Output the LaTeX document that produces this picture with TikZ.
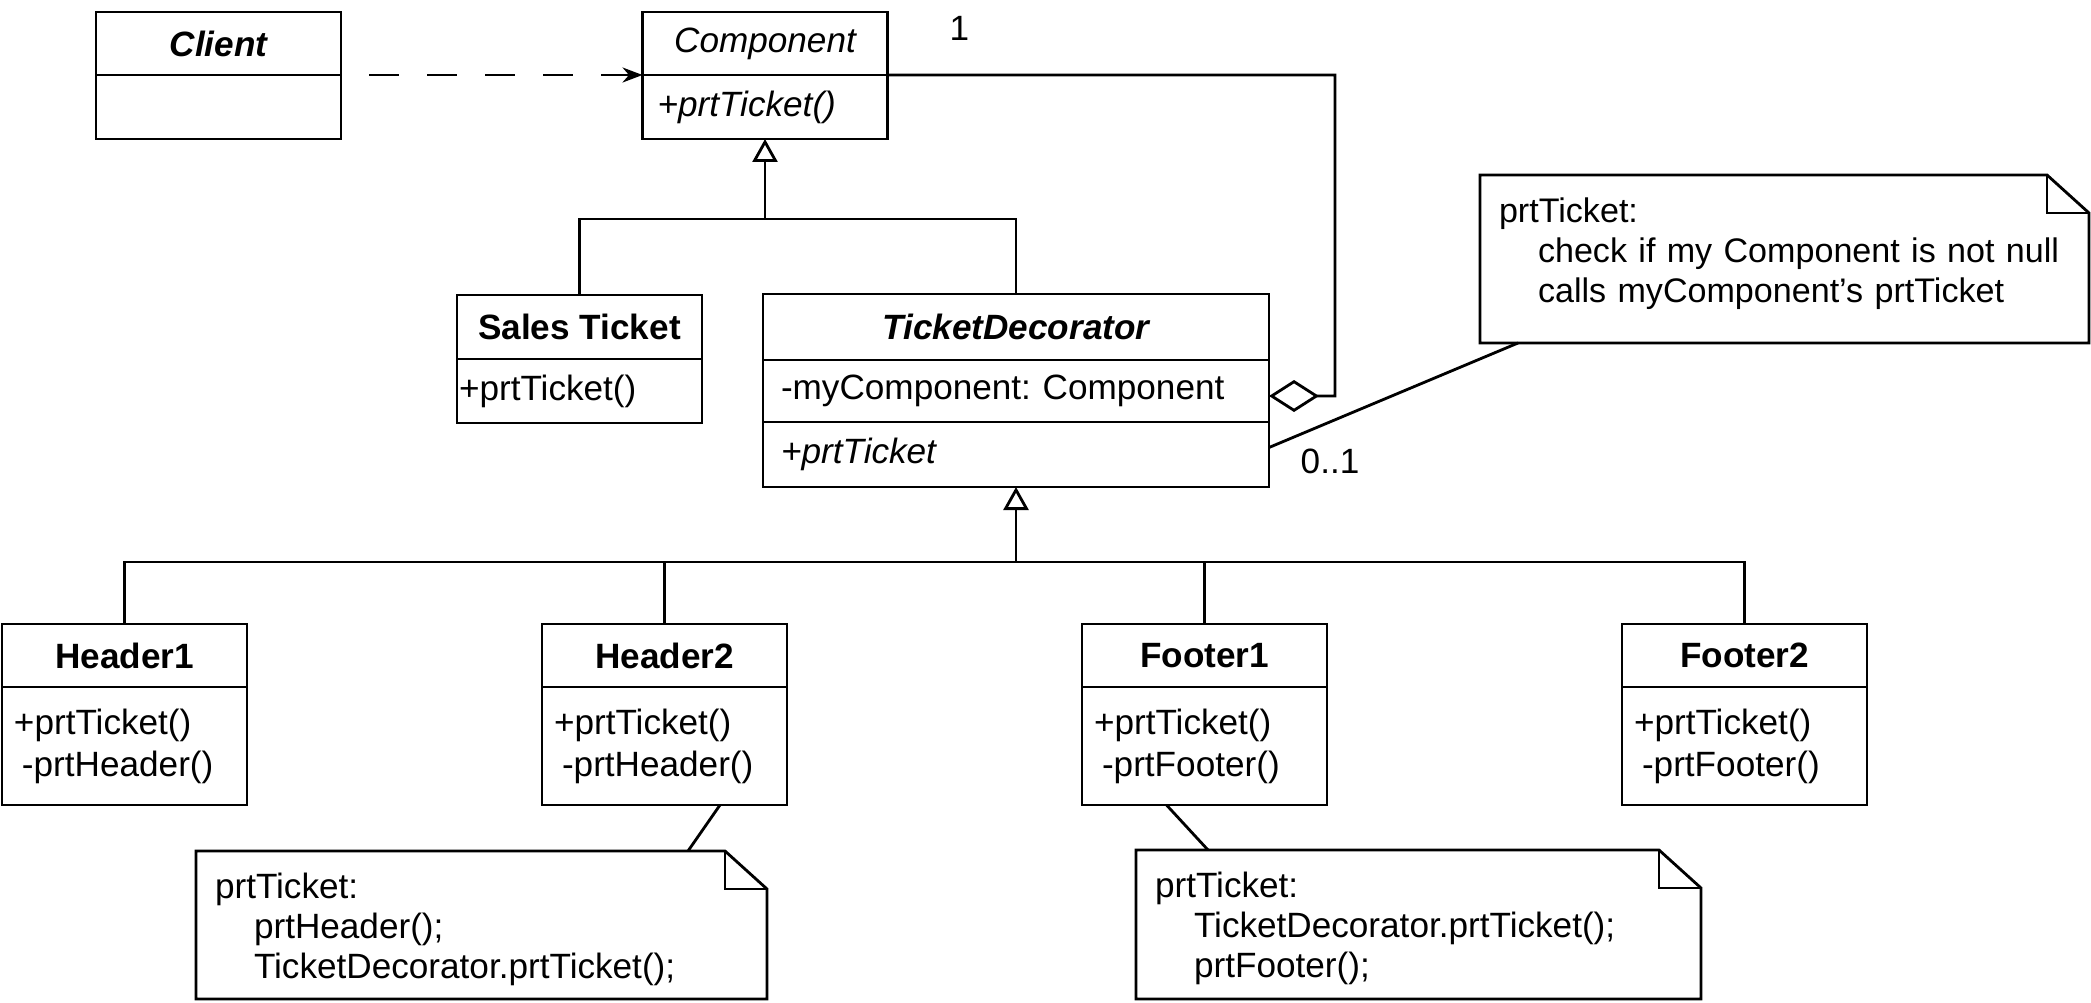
\documentclass[tikz,border=0pt]{standalone}
\usepackage{fontspec}
\setmainfont{Liberation Sans}
\usetikzlibrary{positioning, arrows.meta}
\frenchspacing

\begin{document}
\begin{tikzpicture}[node distance=5.4cm, line width=0.8pt, every node/.style={outer sep=0pt}]
    % Styles
    \tikzstyle{classname} = [rectangle, minimum width=2.45cm, minimum height=0.63cm, inner sep=0pt, text centered, draw=black, font=\bfseries]
    \tikzstyle{classops} = [rectangle, minimum width=2.45cm, minimum height=1.18cm, text width=2.21cm, inner xsep=0.12cm, inner ysep=0pt, align=left, draw=black]
    \tikzstyle{note} = [rectangle, anchor=north west, align=left, inner xsep=0.19cm, inner ysep=0pt, text height=0.47cm, font=\fontsize{10pt}{11.4pt}\selectfont]
    \tikzstyle{inherit} = [-{Triangle[open, length=0.23cm, width=0.25cm]}]
    \tikzstyle{depend} = [dash pattern=on 0.3cm off 0.28cm, dash phase=0.3cm, -{Stealth[length=0.2cm, width=0.15cm]}]
    \tikzstyle{aggregate} = [{Diamond[open, length=0.5cm, width=0.32cm]}-]
    \tikzstyle{mult} = [inner sep=0pt]

    \useasboundingbox (0,0) rectangle (20.91,-10.02);

    % Nodes
    \node (client) [classname, font=\bfseries\itshape] at (2.185,-0.435) {Client};
    \node (clientops) [classops, below=0pt of client, minimum height=0.64cm] {};
    \node (component) [classname, font=\itshape, node distance=5.465cm, right of=client] {Component};
    \node (componentops) [classops, below=0pt of component, minimum height=0.64cm, inner xsep=0.15cm, text width=2.15cm] {\textit{+prtTicket()}};

    \node (sales) [classname, minimum height=0.64cm] at (5.795,-3.27) {Sales Ticket};
    \node (salesops) [classops, below=0pt of sales, minimum height=0.64cm, inner xsep=0.02cm, text width=2.41cm] {+prtTicket()};
    \node (deco) [classname, font=\bfseries\itshape, minimum width=5.06cm, minimum height=0.66cm, node distance=4.365cm, right of=sales] {TicketDecorator};
    \node (decoattr) [classops, below=0pt of deco, minimum width=5.06cm, minimum height=0.62cm, inner xsep=0.18cm, text width=4.70cm] {-myComponent: Component};
    \node (decoops) [classops, below=0pt of decoattr, minimum width=5.06cm, minimum height=0.65cm, inner xsep=0.18cm, text width=4.70cm] {\textit{+prtTicket}};

    \node (header1) [classname] at (1.245,-6.555) {Header1};
    \node (header1ops) [classops, below=0pt of header1] {+prtTicket()\\\hspace*{0.08cm}-prtHeader()};
    \node (header2) [classname, right of=header1] {Header2};
    \node (header2ops) [classops, below=0pt of header2] {+prtTicket()\\\hspace*{0.08cm}-prtHeader()};
    \node (footer1) [classname, right of=header2] {Footer1};
    \node (footer1ops) [classops, below=0pt of footer1] {+prtTicket()\\\hspace*{0.08cm}-prtFooter()};
    \node (footer2) [classname, right of=footer1] {Footer2};
    \node (footer2ops) [classops, below=0pt of footer2] {+prtTicket()\\\hspace*{0.08cm}-prtFooter()};

    % Notes
    \node (deconote) [note, font=\fontsize{9.7pt}{11.4pt}\selectfont, text width=5.71cm, text depth=1.21cm] at (14.80,-1.75) {prtTicket:\\\hspace*{0.39cm}check if my Component is not null\\\hspace*{0.39cm}calls myComponent's prtTicket};
    \node (headernote) [note, text width=5.33cm, text depth=1.01cm] at (1.96,-8.51) {prtTicket:\\\hspace*{0.39cm}prtHeader();\\\hspace*{0.39cm}TicketDecorator.prtTicket();};
    \node (footernote) [note, text width=5.27cm, text depth=1.02cm] at (11.36,-8.50) {prtTicket:\\\hspace*{0.39cm}TicketDecorator.prtTicket();\\\hspace*{0.39cm}prtFooter();};

    \draw (deconote.north west) -- ([xshift=-0.42cm]deconote.north east) -- ([yshift=-0.38cm]deconote.north east) -- (deconote.south east) -- (deconote.south west) -- cycle;
    \draw ([xshift=-0.42cm]deconote.north east) |- ([yshift=-0.38cm]deconote.north east);
    \draw (headernote.north west) -- ([xshift=-0.42cm]headernote.north east) -- ([yshift=-0.38cm]headernote.north east) -- (headernote.south east) -- (headernote.south west) -- cycle;
    \draw ([xshift=-0.42cm]headernote.north east) |- ([yshift=-0.38cm]headernote.north east);
    \draw (footernote.north west) -- ([xshift=-0.42cm]footernote.north east) -- ([yshift=-0.38cm]footernote.north east) -- (footernote.south east) -- (footernote.south west) -- cycle;
    \draw ([xshift=-0.42cm]footernote.north east) |- ([yshift=-0.38cm]footernote.north east);

    % Arrows
    \coordinate (topjoint) at ([yshift=-0.80cm]componentops.south);
    \coordinate (lowjoint) at ([yshift=-0.75cm]decoops.south);
    \coordinate (aggturn) at (13.35,-0.75);

    \draw [depend] (client.south east) -- (component.south west);
    \draw [inherit] (topjoint) -- (componentops.south);
    \draw (sales.north) |- (topjoint);
    \draw (deco.north) |- (topjoint);
    \draw [aggregate] ([yshift=-0.05cm]decoattr.east) -| (aggturn) -- (component.south east);
    \draw [inherit] (lowjoint) -- (decoops.south);
    \draw (header1.north) |- (lowjoint);
    \draw (header2.north) |- (lowjoint);
    \draw (footer1.north) |- (lowjoint);
    \draw (footer2.north) |- (lowjoint);
    \draw ([xshift=0.38cm]deconote.south west) -- ([yshift=0.07cm]decoops.east);
    \draw ([xshift=0.555cm]header2ops.south) -- ([xshift=-0.79cm]headernote.north east);
    \draw ([xshift=-0.38cm]footer1ops.south) -- ([xshift=0.72cm]footernote.north west);

    % Multiplicities
    \node [mult] at ([xshift=0.72cm, yshift=0.47cm]component.south east) {1};
    \node [mult] at ([xshift=0.61cm, yshift=-0.07cm]decoops.east) {0..1};
\end{tikzpicture}
\end{document}
